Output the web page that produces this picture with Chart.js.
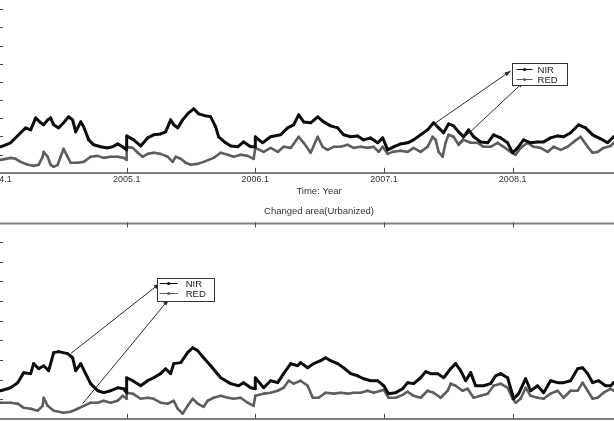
<!DOCTYPE html>
<html>
<head>
<meta charset="utf-8">
<script src="https://cdn.jsdelivr.net/npm/chart.js@4.4.0/dist/chart.umd.min.js"></script>
<style>
  html, body { margin: 0; padding: 0; background: #fff; overflow: hidden; width: 614px; height: 421px; }
  #wrap { position: relative; width: 614px; height: 421px; overflow: hidden; }
  canvas { position: absolute; }
  #c1 { left: -2px; top: -9px; }
  #c2 { left: -2px; top: 200px; }
</style>
</head>
<body>
<div id="wrap">
  <canvas id="c1" width="642" height="206"></canvas>
  <canvas id="c2" width="642" height="243"></canvas>
</div>
<script>
// x values: years elapsed since 2004.1 ; y values: signal (arbitrary units, axis 0..10)
const tickYears = [0, 1, 2, 3, 4];
const tickLabels = ['2004.1', '2005.1', '2006.1', '2007.1', '2008.1'];
const yTickValues = [1, 2, 3, 4, 5, 6, 7, 8, 9];
const seriesNames = ['NIR', 'RED'];

// Upper panel
const topNIR = [[0.021,1.43],[0.098,1.65],[0.176,2.20],[0.215,2.47],[0.254,2.36],[0.293,3.02],[0.332,2.75],[0.355,2.64],[0.386,2.91],[0.409,3.02],[0.433,2.64],[0.471,2.47],[0.510,2.75],[0.549,3.08],[0.580,2.91],[0.604,2.25],[0.643,2.80],[0.666,2.53],[0.705,1.81],[0.744,1.54],[0.798,1.43],[0.852,1.37],[0.891,1.43],[0.930,1.59],[0.969,1.43],[0.999,1.26],[1.000,2.03],[1.054,1.81],[1.109,1.48],[1.163,1.92],[1.210,2.09],[1.264,2.14],[1.303,2.25],[1.342,2.91],[1.366,2.64],[1.397,2.47],[1.435,2.91],[1.482,3.30],[1.521,3.52],[1.560,3.24],[1.614,3.13],[1.653,3.08],[1.692,2.53],[1.715,1.98],[1.769,1.65],[1.808,1.48],[1.863,1.43],[1.909,1.70],[1.964,1.43],[1.999,1.43],[2.000,1.98],[2.057,1.65],[2.119,1.98],[2.197,2.09],[2.251,2.47],[2.298,2.64],[2.337,3.19],[2.376,2.80],[2.430,2.75],[2.485,3.08],[2.531,2.80],[2.585,2.58],[2.640,2.47],[2.686,2.09],[2.741,1.98],[2.795,2.03],[2.842,1.81],[2.896,1.92],[2.951,1.65],[2.990,1.92],[3.029,1.26],[3.075,1.43],[3.129,1.59],[3.184,1.65],[3.230,1.81],[3.285,2.09],[3.339,2.36],[3.386,2.75],[3.425,2.47],[3.464,2.20],[3.502,2.69],[3.541,2.58],[3.580,2.25],[3.619,1.98],[3.658,2.36],[3.697,1.98],[3.751,1.70],[3.806,1.65],[3.852,2.09],[3.907,1.92],[3.961,1.65],[4.000,1.10],[4.039,1.37],[4.085,1.81],[4.140,1.65],[4.194,1.70],[4.241,1.70],[4.295,1.92],[4.350,2.03],[4.396,1.98],[4.451,2.20],[4.513,2.64],[4.567,2.47],[4.622,2.09],[4.684,1.87],[4.738,1.65],[4.785,1.98]];
const topRED = [[0.021,0.71],[0.098,0.82],[0.137,0.77],[0.176,0.60],[0.231,0.44],[0.277,0.38],[0.316,0.44],[0.347,0.88],[0.355,1.15],[0.386,0.88],[0.409,0.44],[0.433,0.33],[0.464,0.44],[0.487,0.88],[0.510,1.32],[0.541,0.88],[0.565,0.55],[0.619,0.55],[0.666,0.60],[0.720,0.88],[0.775,0.93],[0.821,0.82],[0.876,0.88],[0.930,0.88],[0.977,0.82],[0.999,0.71],[1.000,1.43],[1.047,1.37],[1.086,1.10],[1.124,0.88],[1.163,1.04],[1.210,1.10],[1.264,1.04],[1.319,0.88],[1.358,0.60],[1.381,0.88],[1.420,0.77],[1.459,0.55],[1.497,0.44],[1.552,0.49],[1.598,0.60],[1.676,0.82],[1.731,1.10],[1.785,0.99],[1.832,0.88],[1.886,0.99],[1.940,0.93],[1.987,0.77],[2.000,1.37],[2.065,1.15],[2.119,1.37],[2.174,1.15],[2.220,1.43],[2.275,1.37],[2.337,1.98],[2.376,1.65],[2.430,1.10],[2.485,1.98],[2.523,1.43],[2.562,1.26],[2.609,1.43],[2.663,1.43],[2.718,1.54],[2.764,1.37],[2.819,1.43],[2.873,1.37],[2.920,1.43],[2.959,1.15],[2.990,1.43],[3.029,1.04],[3.067,1.15],[3.129,1.21],[3.184,1.15],[3.230,1.37],[3.285,1.15],[3.339,1.43],[3.378,1.98],[3.402,1.81],[3.425,1.15],[3.456,0.88],[3.479,1.65],[3.502,2.09],[3.541,1.98],[3.580,1.54],[3.619,1.81],[3.674,1.65],[3.728,1.65],[3.775,1.43],[3.829,1.43],[3.883,1.65],[3.930,1.43],[3.984,1.15],[4.023,0.99],[4.062,1.37],[4.117,1.65],[4.163,1.43],[4.218,1.37],[4.272,1.15],[4.319,1.43],[4.373,1.26],[4.427,1.43],[4.474,1.70],[4.528,1.98],[4.583,1.43],[4.622,1.10],[4.661,1.15],[4.707,1.37],[4.762,1.48],[4.785,1.65]];

// Lower panel: Changed area (Urbanized)
const botNIR = [[0.021,1.43],[0.098,1.58],[0.153,1.84],[0.200,2.35],[0.254,2.30],[0.277,2.81],[0.316,2.55],[0.355,2.70],[0.394,2.45],[0.433,3.37],[0.471,3.42],[0.541,3.32],[0.580,3.11],[0.604,2.45],[0.643,2.81],[0.681,2.30],[0.720,1.79],[0.775,1.43],[0.821,1.33],[0.876,1.43],[0.930,1.58],[0.977,1.53],[0.999,1.33],[1.000,2.09],[1.047,1.94],[1.109,1.68],[1.163,1.94],[1.210,2.09],[1.264,2.30],[1.303,2.55],[1.342,2.30],[1.366,2.81],[1.420,2.86],[1.474,3.37],[1.513,3.62],[1.552,3.47],[1.598,3.11],[1.653,2.70],[1.731,2.09],[1.808,1.79],[1.870,1.68],[1.909,1.84],[1.964,1.58],[1.999,1.53],[2.000,2.09],[2.065,1.58],[2.119,1.94],[2.174,1.84],[2.220,2.30],[2.275,2.81],[2.329,2.70],[2.352,2.86],[2.407,2.60],[2.453,2.81],[2.508,2.96],[2.547,3.11],[2.585,2.96],[2.640,2.81],[2.686,2.60],[2.741,2.30],[2.795,2.19],[2.842,2.04],[2.896,1.94],[2.951,1.94],[2.999,1.68],[3.036,1.28],[3.091,1.33],[3.145,1.53],[3.184,1.84],[3.230,1.79],[3.285,2.09],[3.324,2.40],[3.363,2.30],[3.417,2.30],[3.464,2.09],[3.518,2.55],[3.557,2.81],[3.596,2.45],[3.635,1.94],[3.674,2.35],[3.712,1.68],[3.775,1.68],[3.829,1.79],[3.868,2.19],[3.907,2.30],[3.961,2.09],[4.008,1.02],[4.047,1.28],[4.101,2.04],[4.140,1.43],[4.194,1.68],[4.241,1.33],[4.295,1.94],[4.350,1.84],[4.396,1.84],[4.451,1.94],[4.505,2.55],[4.544,2.60],[4.583,2.30],[4.622,1.84],[4.668,1.94],[4.723,1.68],[4.762,1.68],[4.785,1.84]];
const botRED = [[0.021,0.82],[0.098,0.82],[0.153,0.77],[0.200,0.56],[0.254,0.51],[0.308,0.41],[0.347,0.66],[0.355,1.07],[0.386,0.66],[0.433,0.41],[0.510,0.31],[0.565,0.36],[0.619,0.51],[0.666,0.66],[0.720,0.82],[0.775,0.82],[0.821,0.92],[0.876,0.82],[0.930,0.92],[0.969,1.17],[0.999,1.02],[1.000,1.33],[1.047,1.28],[1.109,1.02],[1.163,1.07],[1.210,1.02],[1.264,0.82],[1.319,0.77],[1.366,0.92],[1.397,0.51],[1.435,0.26],[1.474,0.66],[1.513,1.02],[1.552,0.77],[1.598,0.61],[1.630,0.92],[1.676,1.07],[1.731,1.17],[1.785,1.07],[1.832,1.02],[1.886,1.07],[1.940,0.82],[1.987,0.66],[2.000,1.17],[2.065,1.28],[2.119,1.33],[2.174,1.43],[2.220,1.58],[2.259,1.94],[2.298,1.79],[2.352,1.94],[2.407,1.68],[2.446,1.07],[2.492,1.07],[2.547,1.33],[2.609,1.28],[2.663,1.33],[2.718,1.28],[2.764,1.33],[2.819,1.33],[2.873,1.43],[2.920,1.33],[2.974,1.43],[2.999,1.48],[3.036,1.07],[3.091,1.07],[3.145,1.22],[3.184,1.38],[3.230,1.17],[3.285,1.07],[3.339,1.43],[3.386,1.33],[3.440,1.07],[3.495,1.43],[3.518,1.79],[3.557,1.68],[3.611,1.43],[3.650,1.53],[3.697,1.07],[3.751,1.17],[3.806,1.28],[3.852,1.68],[3.907,1.79],[3.961,1.58],[4.000,1.02],[4.023,0.82],[4.062,1.02],[4.101,1.58],[4.140,1.17],[4.194,1.07],[4.241,1.02],[4.295,1.28],[4.350,1.43],[4.396,1.07],[4.451,1.43],[4.505,1.43],[4.544,1.84],[4.583,1.43],[4.622,1.02],[4.661,1.07],[4.707,1.33],[4.762,1.53],[4.785,1.43]];

// Legend boxes and callout arrows, in data units (x: years since 2004.1, y: value)
const topLegend = { x0: 3.992, x1: 4.420, y0: 4.84, y1: 6.04, rows: [5.71, 5.16], lineX: [4.031, 4.155], textX: 4.194 };
const topArrows = [[[3.402, 2.75], [3.984, 5.60]], [[3.580, 1.65], [4.085, 5.00]]];
const botLegend = { x0: 1.233, x1: 1.676, y0: 6.02, y1: 7.19, rows: [6.89, 6.38], lineX: [1.257, 1.396], textX: 1.459 };
const botArrows = [[[0.565, 3.32], [1.257, 6.89]], [[0.658, 0.77], [1.326, 6.07]]];

const FONT = "'Liberation Sans', Arial, sans-serif";
const NIR_COLOR = '#0d0d0d';
const RED_COLOR = '#5e5e5e';

const decor = {
  id: 'decor',
  afterDatasetsDraw(chart, args, opts) {
    const { ctx, chartArea: a, scales: { x, y } } = chart;
    const X = v => x.getPixelForValue(v), Y = v => y.getPixelForValue(v);
    ctx.save();
    // top frame line
    ctx.strokeStyle = '#808080'; ctx.lineWidth = 2;
    ctx.beginPath(); ctx.moveTo(a.left, a.top + 1); ctx.lineTo(a.right, a.top + 1); ctx.stroke();
    // inward tick marks
    ctx.strokeStyle = '#4a4a4a'; ctx.lineWidth = 1;
    ctx.beginPath();
    for (const v of tickYears) {
      const px = Math.round(X(v)) + 0.5;
      ctx.moveTo(px, a.bottom); ctx.lineTo(px, a.bottom - 5);
      ctx.moveTo(px, a.top); ctx.lineTo(px, a.top + 5);
    }
    for (const v of yTickValues) {
      const py = Math.round(Y(v)) + 0.5;
      ctx.moveTo(a.left, py); ctx.lineTo(a.left + 5, py);
    }
    ctx.stroke();
    // arrows
    ctx.strokeStyle = '#2a2a2a'; ctx.fillStyle = '#2a2a2a'; ctx.lineWidth = 1;
    for (const [[sx, sy], [ex, ey]] of opts.arrows) {
      const x1 = X(sx), y1 = Y(sy), x2 = X(ex), y2 = Y(ey);
      ctx.beginPath(); ctx.moveTo(x1, y1); ctx.lineTo(x2, y2); ctx.stroke();
      const ang = Math.atan2(y2 - y1, x2 - x1);
      ctx.beginPath();
      ctx.moveTo(x2, y2);
      ctx.lineTo(x2 - 6 * Math.cos(ang) + 2.2 * Math.sin(ang), y2 - 6 * Math.sin(ang) - 2.2 * Math.cos(ang));
      ctx.lineTo(x2 - 6 * Math.cos(ang) - 2.2 * Math.sin(ang), y2 - 6 * Math.sin(ang) + 2.2 * Math.cos(ang));
      ctx.closePath(); ctx.fill();
    }
    // legend box
    const L = opts.legend;
    const bx = Math.round(X(L.x0)) + 0.5, by = Math.round(Y(L.y1)) + 0.5;
    const bw = Math.round(X(L.x1) - X(L.x0)), bh = Math.round(Y(L.y0) - Y(L.y1));
    ctx.fillStyle = '#fff'; ctx.fillRect(bx, by, bw, bh);
    ctx.strokeStyle = '#333'; ctx.lineWidth = 1; ctx.strokeRect(bx, by, bw, bh);
    const colors = [NIR_COLOR, RED_COLOR];
    ctx.font = '9.5px ' + FONT; ctx.textBaseline = 'middle'; ctx.textAlign = 'left';
    L.rows.forEach((rv, i) => {
      const ry = Math.round(Y(rv)) + 0.5;
      ctx.strokeStyle = colors[i]; ctx.fillStyle = colors[i]; ctx.lineWidth = 1;
      ctx.beginPath(); ctx.moveTo(X(L.lineX[0]), ry); ctx.lineTo(X(L.lineX[1]), ry); ctx.stroke();
      ctx.beginPath(); ctx.arc((X(L.lineX[0]) + X(L.lineX[1])) / 2, ry, 1.6, 0, Math.PI * 2); ctx.fill();
      ctx.fillStyle = '#222';
      ctx.fillText(seriesNames[i], X(L.textX), ry + 0.5);
    });
    ctx.restore();
  }
};

function lineDatasets(nir, red) {
  return [
    { label: seriesNames[0], data: nir.map(([t, v]) => ({ x: t, y: v })), borderColor: NIR_COLOR, backgroundColor: NIR_COLOR,
      borderWidth: 3, pointRadius: 1.3, pointBorderWidth: 0, tension: 0, borderJoinStyle: 'round', borderCapStyle: 'round' },
    { label: seriesNames[1], data: red.map(([t, v]) => ({ x: t, y: v })), borderColor: RED_COLOR, backgroundColor: RED_COLOR,
      borderWidth: 2.6, pointRadius: 1.2, pointBorderWidth: 0, tension: 0, borderJoinStyle: 'round', borderCapStyle: 'round' }
  ];
}

function makeOptions(extra) {
  return {
    responsive: false, animation: false, devicePixelRatio: 1,
    layout: { padding: 0, autoPadding: false },
    plugins: Object.assign({ legend: { display: false }, tooltip: { enabled: false } }, extra.plugins),
    scales: {
      x: {
        type: 'linear', min: 0, max: 4.99,
        afterBuildTicks: s => { s.ticks = tickYears.map(v => ({ value: v })); },
        afterFit: s => { s.paddingLeft = 0; s.paddingRight = 0; },
        ticks: { callback: (v) => tickLabels[tickYears.indexOf(v)], color: '#333', padding: 1, maxRotation: 0, autoSkip: false,
                 font: { family: FONT, size: 9 } },
        grid: { display: false, drawTicks: false },
        border: { display: true, color: '#808080', width: 2 },
        title: { display: true, text: 'Time: Year', color: '#333', padding: { top: 0, bottom: 0 }, font: { family: FONT, size: 9.5 } }
      },
      y: {
        min: 0, max: 10,
        afterFit: s => { s.width = 0; s.paddingTop = 0; s.paddingBottom = 0; },
        ticks: { display: false },
        grid: { display: false, drawTicks: false },
        border: { display: true, color: '#9a9a9a', width: 1 }
      }
    }
  };
}

new Chart(document.getElementById('c1'), {
  type: 'line',
  data: { datasets: lineDatasets(topNIR, topRED) },
  options: makeOptions({ plugins: { decor: { arrows: topArrows, legend: topLegend } } }),
  plugins: [decor]
});

new Chart(document.getElementById('c2'), {
  type: 'line',
  data: { datasets: lineDatasets(botNIR, botRED) },
  options: makeOptions({ plugins: {
    decor: { arrows: botArrows, legend: botLegend },
    title: { display: true, text: 'Changed area(Urbanized)', color: '#333', padding: { top: 6, bottom: 5 }, font: { family: FONT, size: 9.5, weight: 'normal' } }
  } }),
  plugins: [decor]
});
</script>
</body>
</html>
